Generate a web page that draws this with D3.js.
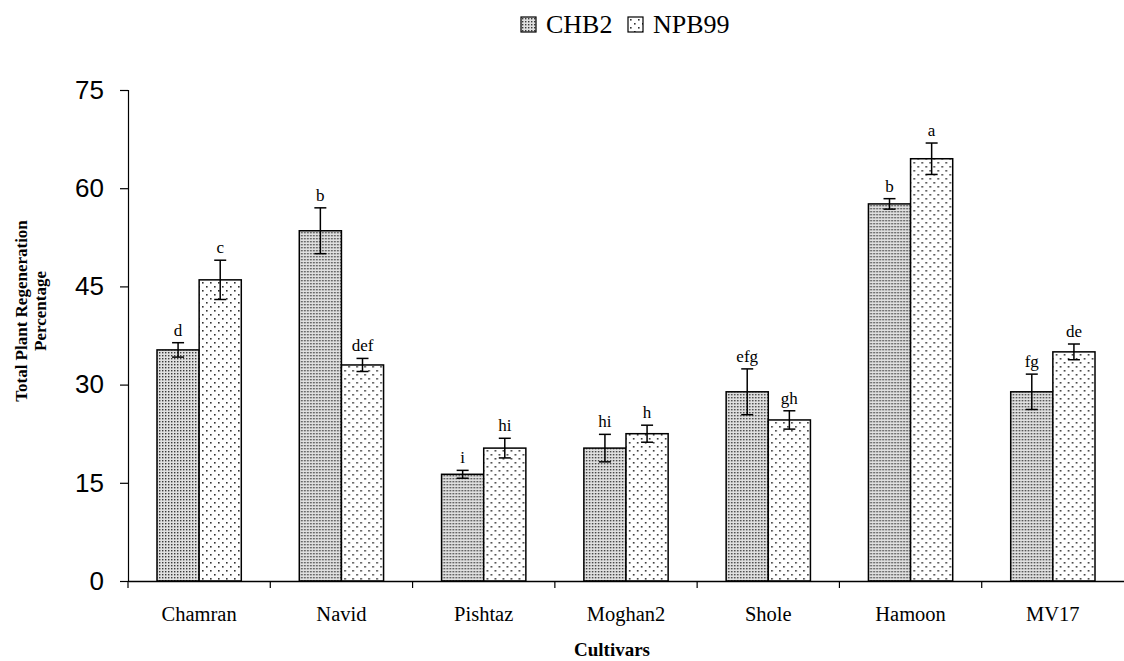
<!DOCTYPE html>
<html>
<head>
<meta charset="utf-8">
<script src="https://cdn.jsdelivr.net/npm/d3@7"></script>
<style>
  body { margin: 0; background: #fff; }
  svg { display: block; }
</style>
</head>
<body>
<div id="chart"></div>
<script>
// Data
const cultivars = ["Chamran", "Navid", "Pishtaz", "Moghan2", "Shole", "Hamoon", "MV17"];
const seriesNames = ["CHB2", "NPB99"];
const chb2Values = [35.3, 53.5, 16.3, 20.3, 28.9, 57.6, 28.9];
const chb2Errors = [1.1, 3.5, 0.6, 2.1, 3.5, 0.8, 2.7];
const chb2Letters = ["d", "b", "i", "hi", "efg", "b", "fg"];
const npb99Values = [46.0, 33.0, 20.3, 22.5, 24.6, 64.5, 35.0];
const npb99Errors = [3.0, 1.0, 1.5, 1.3, 1.4, 2.4, 1.2];
const npb99Letters = ["c", "def", "hi", "h", "gh", "a", "de"];
const yTicks = [0, 15, 30, 45, 60, 75];

const W = 1124, H = 661;
const margin = { top: 90, right: 0, bottom: 80, left: 128 };
const serif = "'Liberation Serif', 'Times New Roman', serif";

const svg = d3.select("#chart").append("svg")
  .attr("width", W)
  .attr("height", H);

// Fill patterns
const defs = svg.append("defs");
const p1 = defs.append("pattern")
  .attr("id", "pat-chb2")
  .attr("patternUnits", "userSpaceOnUse")
  .attr("width", 3).attr("height", 3);
p1.append("rect").attr("width", 3).attr("height", 3).attr("fill", "#e0e0e0");
p1.append("rect").attr("x", 1).attr("y", 1).attr("width", 1.4).attr("height", 1.4).attr("fill", "#3a3a3a");

const p2 = defs.append("pattern")
  .attr("id", "pat-npb99")
  .attr("patternUnits", "userSpaceOnUse")
  .attr("width", 8).attr("height", 8);
p2.append("rect").attr("width", 8).attr("height", 8).attr("fill", "#fff");
p2.append("rect").attr("x", 2).attr("y", 2).attr("width", 1.6).attr("height", 1.6).attr("fill", "#333");
p2.append("rect").attr("x", 6).attr("y", 6).attr("width", 1.6).attr("height", 1.6).attr("fill", "#333");

const fills = { CHB2: "url(#pat-chb2)", NPB99: "url(#pat-npb99)" };

const data = cultivars.map((c, i) => ({
  cultivar: c,
  bars: [
    { key: "CHB2", value: chb2Values[i], err: chb2Errors[i], letter: chb2Letters[i] },
    { key: "NPB99", value: npb99Values[i], err: npb99Errors[i], letter: npb99Letters[i] }
  ]
}));

// Scales
const x = d3.scaleBand()
  .domain(cultivars)
  .range([margin.left, W - margin.right])
  .padding(0);
const xInner = d3.scaleBand()
  .domain(seriesNames)
  .range([29, x.bandwidth() - 29])
  .padding(0);
const y = d3.scaleLinear()
  .domain([0, 75])
  .range([H - margin.bottom, margin.top]);

// Bars
const groups = svg.append("g").selectAll("g")
  .data(data)
  .join("g")
  .attr("transform", d => `translate(${x(d.cultivar)},0)`);

groups.selectAll("rect")
  .data(d => d.bars)
  .join("rect")
  .attr("x", d => xInner(d.key))
  .attr("y", d => y(d.value))
  .attr("width", xInner.bandwidth())
  .attr("height", d => y(0) - y(d.value))
  .attr("fill", d => fills[d.key])
  .attr("stroke", "#000")
  .attr("stroke-width", 1.5);

// Error bars
const cx = d => xInner(d.key) + xInner.bandwidth() / 2;
const eb = groups.selectAll("g.err")
  .data(d => d.bars)
  .join("g")
  .attr("class", "err")
  .attr("stroke", "#000")
  .attr("stroke-width", 1.5);
eb.append("line")
  .attr("x1", cx).attr("x2", cx)
  .attr("y1", d => y(d.value + d.err))
  .attr("y2", d => y(d.value - d.err));
eb.append("line")
  .attr("x1", d => cx(d) - 6).attr("x2", d => cx(d) + 6)
  .attr("y1", d => y(d.value + d.err))
  .attr("y2", d => y(d.value + d.err));
eb.append("line")
  .attr("x1", d => cx(d) - 6).attr("x2", d => cx(d) + 6)
  .attr("y1", d => y(d.value - d.err))
  .attr("y2", d => y(d.value - d.err));

// Significance letters
groups.selectAll("text.letter")
  .data(d => d.bars)
  .join("text")
  .attr("class", "letter")
  .attr("x", cx)
  .attr("y", d => y(d.value + d.err) - 7)
  .attr("text-anchor", "middle")
  .style("font-family", serif)
  .style("font-size", "17px")
  .text(d => d.letter);

// Y axis
svg.append("g")
  .attr("transform", `translate(${margin.left},0)`)
  .call(d3.axisLeft(y).tickValues(yTicks).tickSize(8).tickPadding(16))
  .call(g => g.select(".domain").attr("stroke", "#000").attr("stroke-width", 1.2))
  .call(g => g.selectAll(".tick line").attr("stroke", "#000").attr("stroke-width", 1.2))
  .call(g => g.selectAll(".tick text")
    .attr("fill", "#000")
    .style("font-family", "'Liberation Sans', Arial, sans-serif")
    .style("font-size", "26px"));

// X axis
svg.append("g")
  .attr("transform", `translate(0,${y(0)})`)
  .call(d3.axisBottom(x).tickSize(0).tickPadding(0).tickFormat(""))
  .call(g => g.select(".domain").attr("stroke", "#000").attr("stroke-width", 1.5));

// X ticks at band edges
svg.append("g").selectAll("line")
  .data(cultivars)
  .join("line")
  .attr("x1", d => x(d))
  .attr("x2", d => x(d))
  .attr("y1", y(0))
  .attr("y2", y(0) + 7)
  .attr("stroke", "#000")
  .attr("stroke-width", 1.2);

// X tick labels
svg.append("g").selectAll("text")
  .data(cultivars)
  .join("text")
  .attr("x", d => x(d) + x.bandwidth() / 2)
  .attr("y", y(0) + 40)
  .attr("text-anchor", "middle")
  .style("font-family", serif)
  .style("font-size", "20.5px")
  .text(d => d);

// Axis titles
svg.append("text")
  .attr("x", 612)
  .attr("y", 656)
  .attr("text-anchor", "middle")
  .style("font-family", serif)
  .style("font-size", "19px")
  .style("font-weight", "bold")
  .text("Cultivars");

const yTitle = svg.append("text")
  .attr("transform", "translate(27,311) rotate(-90)")
  .attr("text-anchor", "middle")
  .style("font-family", serif)
  .style("font-size", "17px")
  .style("font-weight", "bold");
yTitle.append("tspan").attr("x", 0).attr("dy", 0).text("Total Plant Regeneration");
yTitle.append("tspan").attr("x", 0).attr("dy", 19).text("Percentage");

// Legend
const legend = svg.append("g").attr("transform", "translate(521,17)");
const legendX = [0, 107];
const legendItems = legend.selectAll("g")
  .data(seriesNames)
  .join("g")
  .attr("transform", (d, i) => `translate(${legendX[i]},0)`);
legendItems.append("rect")
  .attr("width", 15).attr("height", 15)
  .attr("fill", d => fills[d])
  .attr("stroke", "#000")
  .attr("stroke-width", 1.2);
legendItems.append("text")
  .attr("x", 25)
  .attr("y", 16)
  .style("font-family", serif)
  .style("font-size", "26px")
  .text(d => d);
</script>
</body>
</html>
